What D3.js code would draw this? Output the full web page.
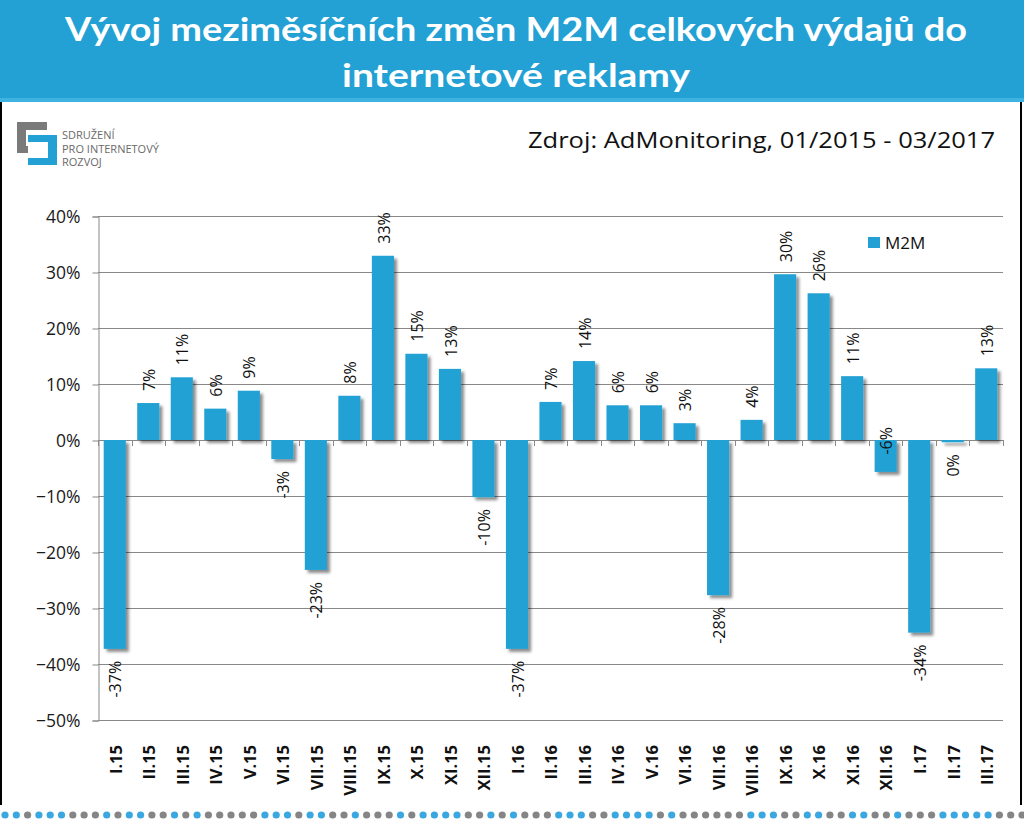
<!DOCTYPE html>
<html><head><meta charset="utf-8">
<script src="https://cdn.jsdelivr.net/npm/d3@7/dist/d3.min.js"></script>
<style>
html,body{margin:0;padding:0;background:#fff;}
svg{display:block;}
</style></head>
<body>
<svg id="chart" width="1024" height="822"></svg>
<script>
// ---- data ----
const categories = ["I.15","II.15","III.15","IV.15","V.15","VI.15","VII.15","VIII.15","IX.15","X.15","XI.15","XII.15",
  "I.16","II.16","III.16","IV.16","V.16","VI.16","VII.16","VIII.16","IX.16","X.16","XI.16","XII.16",
  "I.17","II.17","III.17"];
const m2mValues = [-0.373,0.066,0.112,0.056,0.088,-0.034,-0.232,0.079,0.329,0.154,0.127,-0.102,
  -0.373,0.068,0.141,0.062,0.062,0.030,-0.277,0.036,0.296,0.262,0.114,-0.057,
  -0.344,-0.004,0.128];
const yTicks = [0.4,0.3,0.2,0.1,0,-0.1,-0.2,-0.3,-0.4,-0.5];
const seriesName = "M2M";
const titleLines = ["Vývoj meziměsíčních změn M2M celkových výdajů do","internetové reklamy"];
const sourceText = "Zdroj: AdMonitoring, 01/2015 - 03/2017";
const logoLines = ["SDRUŽENÍ","PRO INTERNETOVÝ","ROZVOJ"];
const dotPattern = "bbgbbbgggbgbbggbgb" + "gggggbbbgbb" + "ggbgggbgbbbbggb" + "gbgggbbbggbbbbgb" + "ggggggbbbggbbggbbggbgggbbbbbggg";
const labelInside = new Set(["XII.16"]);

const blue = "#23a1d4";
const svg = d3.select("#chart");

// shadow filter
const defs = svg.append("defs");
const f = defs.append("filter").attr("id","sh").attr("x","-20%").attr("y","-20%").attr("width","160%").attr("height","160%");
f.append("feDropShadow").attr("dx",3).attr("dy",3).attr("stdDeviation",1.8).attr("flood-color","#000").attr("flood-opacity",0.45);

// ---- banner ----
svg.append("rect").attr("x",0).attr("y",0).attr("width",1024).attr("height",101).attr("fill",blue);
svg.append("rect").attr("x",0).attr("y",98).attr("width",1024).attr("height",4).attr("fill","#3fb3df");
svg.selectAll("text.title").data(titleLines).join("text")
  .attr("class","title")
  .attr("x",516).attr("y",(d,i)=>41+i*46)
  .attr("text-anchor","middle")
  .attr("font-family","Lato, 'Open Sans', sans-serif").attr("font-weight","bold")
  .attr("font-size",33).attr("fill","#fff")
  .attr("textLength",(d,i)=> i===0 ? 902 : 348).attr("lengthAdjust","spacingAndGlyphs")
  .text(d=>d);

// side borders
svg.append("rect").attr("x",0).attr("y",102).attr("width",2).attr("height",703).attr("fill","#000");
svg.append("rect").attr("x",1020).attr("y",102).attr("width",2).attr("height",703).attr("fill","#000");

// ---- logo ----
const logo = svg.append("g");
logo.append("path").attr("fill","#7a7a7a")
  .attr("d","M17,122 H47 V130 H26 V146 H28 V153 H17 Z");
logo.append("path").attr("fill",blue)
  .attr("d","M28,135 H57 V165 H28 V158 H48 V142 H28 Z");
logo.selectAll("text").data(logoLines).join("text")
  .attr("x",62).attr("y",(d,i)=>139+i*13.5)
  .attr("font-family","'Open Sans', sans-serif").attr("font-size",11)
  .attr("fill","#6a6a6a")
  .text(d=>d);

// source
svg.append("text").attr("x",995).attr("y",148).attr("text-anchor","end")
  .attr("font-family","'Open Sans', sans-serif").attr("font-size",21).attr("fill","#111")
  .attr("textLength",467).attr("lengthAdjust","spacingAndGlyphs")
  .text(sourceText);

// ---- chart ----
const left = 98, right = 1003;
const y = d3.scaleLinear().domain([-0.5,0.4]).range([720,216]);
const x = d3.scaleBand().domain(categories).range([left,right]).paddingInner(0.34).paddingOuter(0.17);

// gridlines
svg.append("g").selectAll("line").data(yTicks).join("line")
  .attr("x1",left).attr("x2",right)
  .attr("y1",d=>y(d)+0.5).attr("y2",d=>y(d)+0.5)
  .attr("stroke","#888").attr("stroke-width",1);

// y axis
const yAxis = d3.axisLeft(y).tickValues(yTicks).tickSize(6).tickPadding(12)
  .tickFormat(d=>d3.format(".0%")(d));
const yg = svg.append("g").attr("transform",`translate(${left+0.5},0.5)`).call(yAxis);
yg.select(".domain").attr("stroke","#888");
yg.selectAll(".tick line").attr("stroke","#888");
yg.selectAll(".tick text").attr("font-family","'Open Sans', sans-serif").attr("font-size",17.5).attr("fill","#1a1a1a");

// x axis ticks at zero line (band boundaries)
const step = x.step();
const boundaries = d3.range(categories.length+1).map(i=>x.range()[0] + i*step);
svg.append("g").selectAll("line").data(boundaries).join("line")
  .attr("x1",d=>Math.round(d)+0.5).attr("x2",d=>Math.round(d)+0.5)
  .attr("y1",y(0)).attr("y2",y(0)+6)
  .attr("stroke","#888");

// bars
svg.append("g").attr("filter","url(#sh)").selectAll("rect").data(categories).join("rect")
  .attr("x",d=>x(d))
  .attr("width",x.bandwidth())
  .attr("y",(d,i)=>y(Math.max(0,m2mValues[i])))
  .attr("height",(d,i)=>Math.abs(y(m2mValues[i])-y(0)))
  .attr("fill",blue);

// data labels (rotated)
svg.append("g").selectAll("text").data(categories).join("text")
  .attr("transform",(d,i)=>{
    const v = m2mValues[i];
    const cx = x(d) + x.bandwidth()/2 + 1;
    let yy;
    if (labelInside.has(d)) yy = y(0) - 13;
    else yy = v >= 0 ? y(v) - 12 : y(v) + 12;
    return `translate(${cx},${yy}) rotate(-90)`;
  })
  .attr("text-anchor",(d,i)=> (labelInside.has(d) ? "end" : (m2mValues[i] >= 0 ? "start" : "end")))
  .attr("dy","0.35em")
  .attr("font-family","'Open Sans', sans-serif").attr("font-size",16).attr("fill","#111")
  .text((d,i)=>d3.format(".0%")(m2mValues[i]).replace("−","-").replace(/^-0%$/,"0%"));

// category labels
svg.append("g").selectAll("text").data(categories).join("text")
  .attr("transform",d=>`translate(${x(d)+x.bandwidth()/2+1},${745}) rotate(-90)`)
  .attr("text-anchor","end").attr("dy","0.35em")
  .attr("font-family","'Open Sans', sans-serif").attr("font-weight","bold").attr("font-size",16.5).attr("fill","#111")
  .text(d=>d);

// legend
svg.append("rect").attr("x",868).attr("y",237).attr("width",12).attr("height",11).attr("fill",blue);
svg.append("text").attr("x",885).attr("y",248.5)
  .attr("font-family","'Open Sans', sans-serif").attr("font-size",17).attr("fill","#111").text(seriesName);

// bottom dotted decoration
svg.append("g").selectAll("circle").data(dotPattern.split("")).join("circle")
  .attr("cx",(d,i)=>5+i*11.3).attr("cy",815).attr("r",3.6)
  .attr("fill",d=> d==="b" ? "#3aa7e0" : "#858585");
</script>
</body></html>
